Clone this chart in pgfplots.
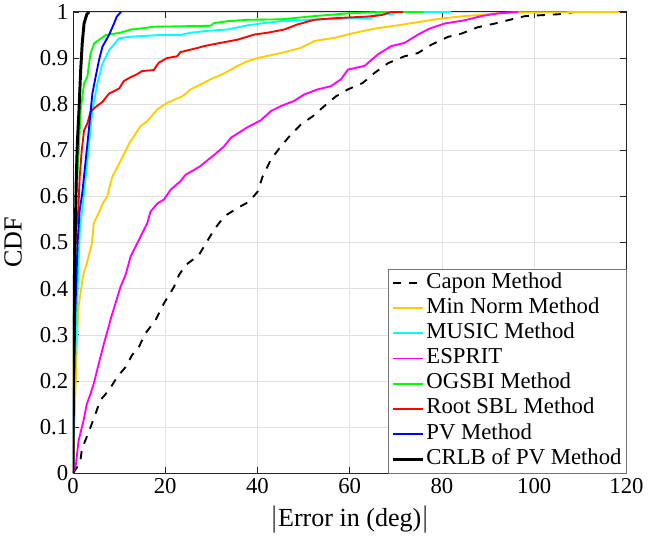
\documentclass[border=0pt]{standalone}
\usepackage{fontspec}
\setmainfont{Liberation Serif}
\usepackage{pgfplots}
\pgfplotsset{compat=1.18}
\definecolor{mnorm}{rgb}{1,0.8,0}
\definecolor{mcyan}{rgb}{0,1,1}
\definecolor{mmag}{rgb}{1,0,1}
\definecolor{mgreen}{rgb}{0,1,0}
\definecolor{mred}{rgb}{1,0,0}
\definecolor{mblue}{rgb}{0,0,1}
\definecolor{axgray}{rgb}{0.15,0.15,0.15}
\begin{document}
\begin{tikzpicture}
\begin{axis}[
  scale only axis,
  width=414pt, height=345pt,
  xmin=0, xmax=120, ymin=0, ymax=1,
  xtick={0,20,40,60,80,100,120},
  ytick={0,0.1,0.2,0.3,0.4,0.5,0.6,0.7,0.8,0.9,1},
  yticklabels={0,0.1,0.2,0.3,0.4,0.5,0.6,0.7,0.8,0.9,1},
  /pgf/number format/assume math mode=true,
  tick label style={font=\fontsize{17}{18}\selectfont},
  label style={font=\fontsize{19.5}{22}\selectfont},
  xlabel={$|$Error in (deg)$|$},
  ylabel={CDF},
  xlabel style={at={(axis description cs:0.5,-0.1)},anchor=center},
  ylabel style={at={(axis description cs:-0.108,0.5)},anchor=center},
  grid=major,
  grid style={black!12, line width=0.5pt},
  axis line style={axgray, line width=0.7pt},
  major tick style={axgray, line width=0.6pt},
  major tick length=4.5pt,
  tick align=inside,
  every axis plot/.append style={line width=1.4pt},
  legend cell align=left,
  legend style={at={(1,0)}, anchor=south east, draw=black!55, fill=white,
    font=\fontsize{17}{18}\selectfont, inner xsep=2pt, inner ysep=1pt,
    nodes={inner sep=1.5pt, text height=11.8pt, text depth=4pt}},
  legend image code/.code={\draw[#1] (0pt,0pt) -- (22.5pt,0pt);},
]
\addplot[black, dash pattern=on 6pt off 6pt] coordinates {
(0,0) (1,0.015) (1.6,0.028) (1.96,0.053) (3.4,0.089) (4.9,0.129) (5.9,0.158) (7.8,0.18) (9.6,0.209) (11.4,0.23) (12.8,0.256) (14.3,0.274) (15.7,0.303) (17.9,0.332) (19.7,0.368) (21.9,0.404) (23,0.43) (24.4,0.451) (27.3,0.473) (28.8,0.498) (30.6,0.528) (32.8,0.557) (35.7,0.575) (38.2,0.589) (40,0.61) (41.1,0.643) (42.9,0.68) (45.1,0.709) (46.9,0.73) (49.4,0.756) (52,0.774) (54.5,0.796) (57,0.817) (59.6,0.832) (62.8,0.846) (65.4,0.868) (68.3,0.889) (71.9,0.904) (74.8,0.911) (77.7,0.929) (81.3,0.946) (84.2,0.953) (87.8,0.967) (91.5,0.975) (95.1,0.984) (98,0.991) (101.6,0.993) (105.2,0.995) (108.8,1)
};
\addplot[mnorm] coordinates {
(0,0) (0.3,0.1) (0.6,0.2) (0.87,0.29) (1.2,0.361) (1.96,0.412) (2.3,0.433) (3,0.455) (4.1,0.498) (4.5,0.542) (5.9,0.571) (6.4,0.584) (7.4,0.6) (8.5,0.642) (10,0.671) (10.7,0.685) (12.2,0.715) (14.6,0.752) (16.1,0.763) (18.3,0.789) (20.4,0.803) (23.7,0.817) (25.5,0.832) (27.7,0.843) (29.8,0.854) (32.8,0.867) (35.7,0.883) (37.8,0.893) (40,0.9) (45.1,0.911) (49.4,0.922) (52.3,0.937) (56.7,0.944) (60.3,0.953) (65.4,0.964) (70.4,0.971) (74.8,0.978) (79.9,0.986) (84.9,0.991) (90,0.995) (95.8,0.999) (118.3,1)
};
\addplot[mcyan] coordinates {
(0,0) (0.1,0.1) (0.5,0.25) (1.0,0.4) (1.5,0.53) (2.0,0.57) (2.75,0.642) (3.5,0.715) (4.2,0.787) (5.3,0.845) (6.4,0.888) (7.8,0.917) (10,0.943) (12.2,0.946) (15.4,0.948) (19,0.95) (23.3,0.95) (25.5,0.955) (29.1,0.959) (33.5,0.962) (37.8,0.971) (41.5,0.976) (45.1,0.98) (52.3,0.983) (59.6,0.986) (64.6,0.986) (65.7,0.995) (69,0.995) (70.4,1) (82,1)
};
\addplot[mmag] coordinates {
(0,0) (0.65,0.02) (1.2,0.07) (2.3,0.115) (3,0.15) (3.8,0.172) (4.5,0.194) (5.6,0.238) (6.7,0.281) (7.8,0.32) (8.1,0.332) (9.2,0.368) (10.3,0.404) (11.4,0.43) (12.5,0.47) (13.9,0.498) (16.1,0.542) (16.8,0.567) (18.3,0.585) (19.7,0.593) (21.2,0.615) (23.3,0.633) (24.4,0.647) (27.5,0.665) (30.6,0.69) (32.8,0.709) (34.2,0.727) (37.8,0.75) (40.7,0.765) (42.9,0.785) (45.1,0.796) (47.9,0.807) (50.1,0.821) (53,0.832) (55.9,0.839) (58.1,0.854) (59.6,0.875) (63.2,0.883) (66.1,0.908) (69,0.926) (71.9,0.933) (74.8,0.951) (77.3,0.964) (80.6,0.975) (84.9,0.982) (88.5,0.991) (92.2,0.997) (96.5,1)
};
\addplot[mgreen] coordinates {
(0,0) (0.05,0.2) (0.3,0.45) (0.72,0.606) (1.15,0.678) (1.67,0.787) (2.4,0.845) (3.1,0.859) (3.8,0.91) (4.6,0.932) (7.1,0.95) (10.3,0.955) (12.5,0.962) (14.6,0.964) (17.5,0.968) (29.8,0.97) (30.6,0.976) (33.5,0.98) (37.8,0.983) (45.1,0.984) (52.3,0.991) (59.6,0.997) (66.8,1) (75.9,1)
};
\addplot[mred] coordinates {
(0,0) (0.1,0.23) (0.3,0.45) (0.7,0.53) (1.15,0.57) (1.45,0.642) (1.9,0.7) (2.4,0.743) (3.1,0.758) (3.8,0.783) (4.9,0.794) (6.4,0.805) (7.8,0.823) (10,0.834) (11,0.85) (12.2,0.857) (13.9,0.865) (15,0.872) (17.5,0.874) (18.6,0.89) (20.4,0.9) (22.6,0.904) (23.3,0.913) (27,0.922) (28.4,0.926) (32,0.933) (35.7,0.94) (39.3,0.951) (42.2,0.955) (45.8,0.962) (48.7,0.973) (52.3,0.983) (55.9,0.986) (59.6,0.988) (63.9,0.99) (66.8,0.993) (69,1) (71.5,1)
};
\addplot[mblue] coordinates {
(0,0) (0.1,0.12) (0.5,0.35) (1.0,0.5) (1.45,0.57) (2.0,0.606) (2.75,0.678) (3.5,0.751) (4.2,0.823) (4.9,0.859) (5.65,0.896) (6.4,0.925) (7.8,0.95) (8.9,0.975) (9.5,0.99) (10.4,1)
};
\addplot[black, line width=2.2pt] coordinates {
(0,0) (0.1,0.2) (0.3,0.42) (0.58,0.57) (0.72,0.642) (0.94,0.715) (1.3,0.787) (1.67,0.874) (2.0,0.932) (2.4,0.975) (3,0.995) (3.5,1)
};
\legend{Capon Method,Min Norm Method,MUSIC Method,ESPRIT,OGSBI Method,Root SBL Method,PV Method,CRLB of PV Method}
\end{axis}
\end{tikzpicture}
\end{document}
